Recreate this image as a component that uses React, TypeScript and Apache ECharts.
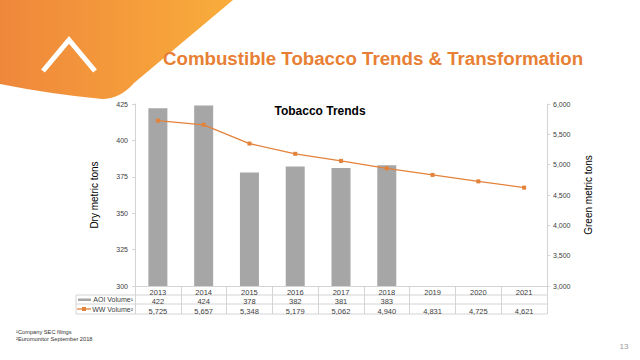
import React, { useEffect, useRef } from "react";
import * as echarts from "echarts";

const years = ["2013", "2014", "2015", "2016", "2017", "2018", "2019", "2020", "2021"];
const aoiVolume: (number | null)[] = [422, 424, 378, 382, 381, 383, null, null, null];
const wwVolume: number[] = [5725, 5657, 5348, 5179, 5062, 4940, 4831, 4725, 4621];
const leftTicks = { min: 300, max: 425, interval: 25 };
const rightTicks = { min: 3000, max: 6000, interval: 500 };
const rowLabels = ["AOI Volume¹", "WW Volume²"];
const footnotes = ["¹Company SEC filings", "²Euromonitor September 2018"];

const fmt = (v: number | null) => (v == null ? "" : v.toLocaleString("en-US"));

const BAR = "#a6a6a6";
const LINE = "#e3823a";
const GRIDC = "#d4d4d4";
const FONT = "'Liberation Sans', Arial, sans-serif";

let registered = false;
function registerShapes() {
  if (registered) return;
  registered = true;
  echarts.graphic.registerShape(
    "swoosh",
    echarts.graphic.extendPath(
      "M0 0 L233 0 L134 83 Q120 99 102 99 Q50 94 0 84 Z",
      {}
    )
  );
}

export default function App() {
  const ref = useRef<HTMLDivElement>(null);
  useEffect(() => {
    if (!ref.current) return;
    registerShapes();
    const chart = echarts.init(ref.current, undefined, { renderer: "svg" });
    const gl = 135, gr = 547, tableLeft = 76;
    const rowY = [295, 304, 314];
    const lineStyle = { stroke: GRIDC, lineWidth: 1 };
    chart.setOption({
      animation: false,
      backgroundColor: "#ffffff",
      textStyle: { fontFamily: FONT },
      title: {
        text: "Tobacco Trends",
        left: "center",
        top: 100,
        textStyle: { fontSize: 12, fontWeight: "bold", color: "#000", fontFamily: FONT },
      },
      grid: { left: gl, right: 640 - gr, top: 104, bottom: 74 },
      xAxis: [
        {
          type: "category",
          data: years,
          position: "bottom",
          axisLine: { show: true, lineStyle: { color: GRIDC } },
          axisTick: { show: true, length: 28, interval: 0, lineStyle: { color: GRIDC } },
          axisLabel: { fontSize: 7.5, color: "#404040", margin: 2, interval: 0 },
        },
        {
          type: "category",
          data: aoiVolume.map(fmt),
          position: "bottom",
          offset: 9,
          axisLine: { show: false },
          axisTick: { show: false },
          axisLabel: { fontSize: 7.5, color: "#404040", margin: 2, interval: 0 },
        },
        {
          type: "category",
          data: wwVolume.map(fmt),
          position: "bottom",
          offset: 19,
          axisLine: { show: false },
          axisTick: { show: false },
          axisLabel: { fontSize: 7.5, color: "#404040", margin: 2, interval: 0 },
        },
      ],
      yAxis: [
        {
          type: "value",
          min: leftTicks.min,
          max: leftTicks.max,
          interval: leftTicks.interval,
          name: "Dry metric tons",
          nameLocation: "middle",
          nameGap: 36,
          nameTextStyle: { fontSize: 10, color: "#000" },
          axisLine: { show: true, lineStyle: { color: GRIDC } },
          axisTick: { show: true, length: 3, lineStyle: { color: GRIDC } },
          splitLine: { show: false },
          axisLabel: { fontSize: 7, color: "#404040", margin: 7 },
        },
        {
          type: "value",
          min: rightTicks.min,
          max: rightTicks.max,
          interval: rightTicks.interval,
          name: "Green metric tons",
          nameLocation: "middle",
          nameGap: 36,
          nameTextStyle: { fontSize: 10, color: "#000" },
          axisLine: { show: true, lineStyle: { color: GRIDC } },
          axisTick: { show: true, length: 3, lineStyle: { color: GRIDC } },
          splitLine: { show: false },
          axisLabel: {
            fontSize: 7,
            color: "#404040",
            margin: 6,
            formatter: (v: number) => v.toLocaleString("en-US"),
          },
        },
      ],
      series: [
        {
          type: "bar",
          name: rowLabels[0],
          data: aoiVolume,
          barWidth: 19,
          itemStyle: { color: BAR },
          xAxisIndex: 0,
          yAxisIndex: 0,
        },
        {
          type: "line",
          name: rowLabels[1],
          data: wwVolume,
          xAxisIndex: 0,
          yAxisIndex: 1,
          symbol: "rect",
          symbolSize: 4,
          lineStyle: { color: LINE, width: 1.3 },
          itemStyle: { color: LINE },
        },
      ],
      graphic: [
        {
          type: "swoosh",
          x: 0,
          y: 0,
          scaleX: 1,
          scaleY: 1,
          silent: true,
          style: {
            fill: new echarts.graphic.LinearGradient(0, 0, 1, 0, [
              { offset: 0, color: "#ef873b" },
              { offset: 1, color: "#f9ad3b" },
            ]),
          },
        },
        {
          type: "polyline",
          shape: { points: [[43, 71], [69, 40], [95, 71]] },
          style: { stroke: "#ffffff", lineWidth: 5, fill: null, lineJoin: "miter", lineCap: "butt" },
        },
        {
          type: "text",
          x: 163,
          y: 58,
          style: {
            text: "Combustible Tobacco Trends & Transformation",
            fill: "#e77f34",
            font: `bold 18.7px ${FONT}`,
            textVerticalAlign: "middle",
            verticalAlign: "middle",
          },
        },
        // table horizontal lines
        ...rowY.map((y) => ({
          type: "line",
          shape: { x1: tableLeft, y1: y, x2: gr, y2: y },
          style: lineStyle,
        })),
        {
          type: "line",
          shape: { x1: tableLeft, y1: rowY[0], x2: tableLeft, y2: rowY[2] },
          style: lineStyle,
        },
        // row labels
        ...rowLabels.map((t, i) => ({
          type: "text",
          x: 133,
          y: (rowY[i] + rowY[i + 1]) / 2,
          style: {
            text: t,
            fill: "#404040",
            font: `7px ${FONT}`,
            textAlign: "right",
            align: "right",
            verticalAlign: "middle",
            textVerticalAlign: "middle",
          },
        })),
        // legend keys
        {
          type: "rect",
          shape: { x: 78, y: 298.5, width: 13, height: 2.5 },
          style: { fill: BAR },
        },
        {
          type: "line",
          shape: { x1: 77, y1: 309, x2: 91, y2: 309 },
          style: { stroke: LINE, lineWidth: 1.3 },
        },
        {
          type: "rect",
          shape: { x: 82, y: 307, width: 4, height: 4 },
          style: { fill: LINE },
        },
        // footnotes
        ...footnotes.map((t, i) => ({
          type: "text",
          x: 16,
          y: 332 + i * 6.5,
          style: {
            text: t,
            fill: "#333",
            font: `5.7px ${FONT}`,
            verticalAlign: "middle",
            textVerticalAlign: "middle",
          },
        })),
        {
          type: "text",
          x: 624,
          y: 346,
          style: {
            text: "13",
            fill: "#9a9a9a",
            font: `8px ${FONT}`,
            textAlign: "center",
            align: "center",
            verticalAlign: "middle",
            textVerticalAlign: "middle",
          },
        },
      ],
    });
    return () => chart.dispose();
  }, []);
  return (
    <div
      ref={ref}
      style={{ position: "absolute", left: 0, top: 0, width: 640, height: 360 }}
    />
  );
}
